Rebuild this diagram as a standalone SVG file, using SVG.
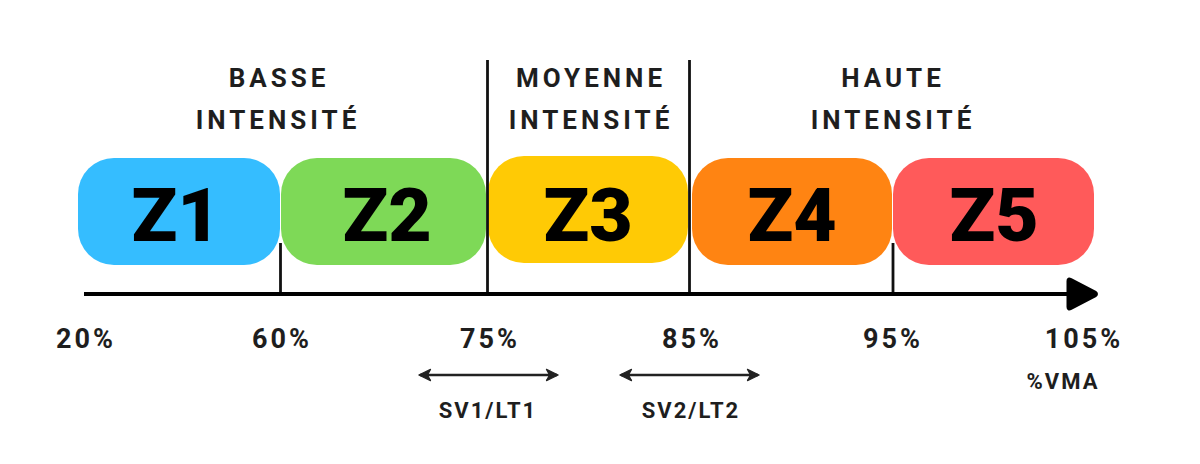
<svg xmlns="http://www.w3.org/2000/svg" width="1200" height="464" viewBox="0 0 1200 464">
  <style>
    .zone-label { font-family: Roboto, "Liberation Sans", sans-serif; font-weight: 900; font-size: 75px; fill: #000; text-anchor: middle; }
    .title { font-family: Roboto, "Liberation Sans", sans-serif; font-weight: 700; font-size: 26px; fill: #1e1e1e; text-anchor: middle; letter-spacing: 4px; }
    .pct { font-family: Roboto, "Liberation Sans", sans-serif; font-weight: 700; font-size: 27px; fill: #1e1e1e; text-anchor: middle; letter-spacing: 3px; }
    .small { font-family: Roboto, "Liberation Sans", sans-serif; font-weight: 700; font-size: 22px; fill: #1e1e1e; text-anchor: middle; letter-spacing: 2px; }
    .sep { stroke: #111; stroke-width: 2.8; fill: none; }
    .dbl { stroke: #222; stroke-width: 2.6; fill: none; }
  </style>
  <defs>
    <marker id="chev" viewBox="0 0 12 12" refX="10" refY="6" markerWidth="5.4" markerHeight="5.4" orient="auto-start-reverse" markerUnits="strokeWidth">
      <path d="M1,1.2 L11,6 L1,10.8 L3.6,6 Z" fill="#222" stroke="#222" stroke-width="1" stroke-linejoin="round"/>
    </marker>
  </defs>
  <rect width="1200" height="464" fill="#ffffff"/>

  <g id="titles">
    <text class="title" x="279" y="87">BASSE</text>
    <text class="title" x="278" y="129">INTENSITÉ</text>
    <text class="title" x="591" y="87">MOYENNE</text>
    <text class="title" x="591" y="129">INTENSITÉ</text>
    <text class="title" x="893" y="87">HAUTE</text>
    <text class="title" x="893" y="129">INTENSITÉ</text>
  </g>

  <g id="z1">
    <rect x="78" y="158" width="202" height="107" rx="36" ry="36" fill="#35BDFF"/>
    <text class="zone-label" x="176" y="241">Z1</text>
  </g>
  <g id="z2">
    <rect x="281" y="158" width="205" height="107" rx="36" ry="36" fill="#7ED957"/>
    <text class="zone-label" x="387" y="241">Z2</text>
  </g>
  <g id="z3">
    <rect x="488" y="156" width="200" height="107" rx="36" ry="36" fill="#FFCA05"/>
    <text class="zone-label" x="588" y="241">Z3</text>
  </g>
  <g id="z4">
    <rect x="692" y="158" width="200" height="107" rx="36" ry="36" fill="#FF8412"/>
    <text class="zone-label" x="792" y="241">Z4</text>
  </g>
  <g id="z5">
    <rect x="893" y="158" width="201" height="107" rx="36" ry="36" fill="#FF5A5A"/>
    <text class="zone-label" x="994" y="241">Z5</text>
  </g>

  <g id="connectors">
    <line class="sep" x1="487.5" y1="60" x2="487.5" y2="294"/>
    <line class="sep" x1="689.5" y1="60" x2="689.5" y2="294"/>
    <line class="sep" x1="280.5" y1="243" x2="280.5" y2="294"/>
    <line class="sep" x1="893" y1="243" x2="893" y2="294"/>
    <line x1="84" y1="294" x2="1072" y2="294" stroke="#000" stroke-width="4"/>
    <path d="M1070,280 Q1068,278 1071,279.5 L1095,292 Q1098,294 1095,296 L1071,308.5 Q1068,310 1068,307 L1068,281 Q1068,278 1070,280 Z" fill="#000" stroke="#000" stroke-width="3" stroke-linejoin="round"/>
    <line class="dbl" x1="420" y1="375" x2="557" y2="375" marker-start="url(#chev)" marker-end="url(#chev)"/>
    <line class="dbl" x1="621" y1="375" x2="758" y2="375" marker-start="url(#chev)" marker-end="url(#chev)"/>
  </g>

  <g id="axis-labels">
    <text class="pct" x="86" y="348">20%</text>
    <text class="pct" x="282" y="348">60%</text>
    <text class="pct" x="490" y="348">75%</text>
    <text class="pct" x="692" y="348">85%</text>
    <text class="pct" x="893" y="348">95%</text>
    <text class="pct" x="1084" y="348">105%</text>
    <text class="small" x="1063" y="389">%VMA</text>
    <text class="small" x="488" y="418">SV1/LT1</text>
    <text class="small" x="691" y="418">SV2/LT2</text>
  </g>
</svg>
